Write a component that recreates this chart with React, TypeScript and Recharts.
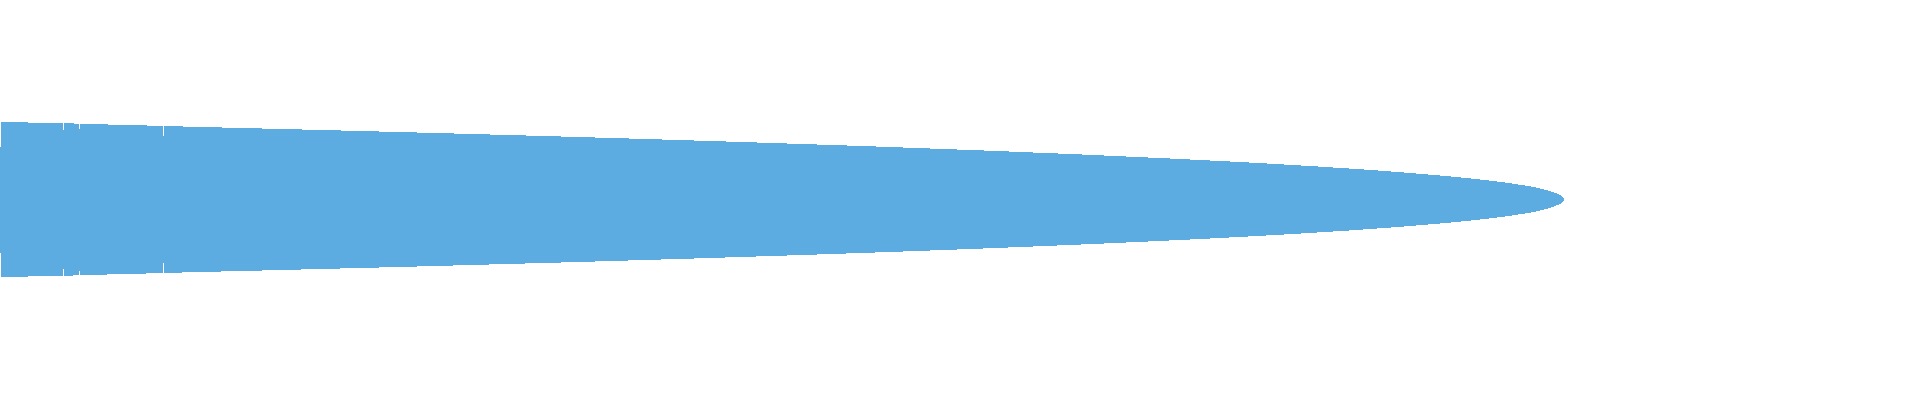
import React from 'react';
import { AreaChart, Area, XAxis, YAxis } from 'recharts';

// Rank position along the horizontal axis
const positions = [
  0, 1, 1, 28, 63, 63, 64, 64, 79, 79, 80, 80, 114, 163, 163, 164, 164,
  197, 278, 356, 432, 504, 575, 642, 707, 769, 829, 887, 941, 994, 1043,
  1091, 1135, 1178, 1218, 1256, 1291, 1324, 1355, 1383, 1409, 1433, 1455,
  1475, 1492, 1508, 1521, 1533, 1542, 1549, 1555, 1560, 1562, 1563.5, 1564,
];

// Half-spread of the mirrored band at each position
const values = [
  53, 53, 77.5, 77, 76.3, 69.8, 69.8, 76.2, 75.9, 71, 71, 75.8, 74.8, 73.6, 63.3, 63.3, 73.5,
  72.6, 70.6, 68.6, 66.6, 64.6, 62.6, 60.6, 58.6, 56.6, 54.6, 52.6, 50.6, 48.6, 46.6,
  44.6, 42.6, 40.6, 38.6, 36.6, 34.6, 32.6, 30.6, 28.6, 26.6, 24.6, 22.6,
  20.6, 18.6, 16.6, 14.6, 12.6, 10.6, 8.6, 6.6, 4.6, 2.8, 1.5, 0,
];

const data = positions.map((x, i) => ({ x, band: [-values[i], values[i]] }));

export default function App() {
  return (
    <div
      style={{
        position: 'absolute',
        left: 0,
        top: 0,
        width: 1920,
        height: 399,
        shapeRendering: 'crispEdges',
      }}
    >
      <AreaChart width={1920} height={399} data={data} margin={{ top: 0, right: 0, bottom: 0, left: 0 }}>
        <XAxis type="number" dataKey="x" domain={[0, 1920]} hide />
        <YAxis type="number" domain={[-199.5, 199.5]} hide />
        <Area
          type="linear"
          dataKey="band"
          stroke="none"
          fill="#5dace1"
          fillOpacity={1}
          isAnimationActive={false}
          dot={false}
          activeDot={false}
        />
      </AreaChart>
    </div>
  );
}
